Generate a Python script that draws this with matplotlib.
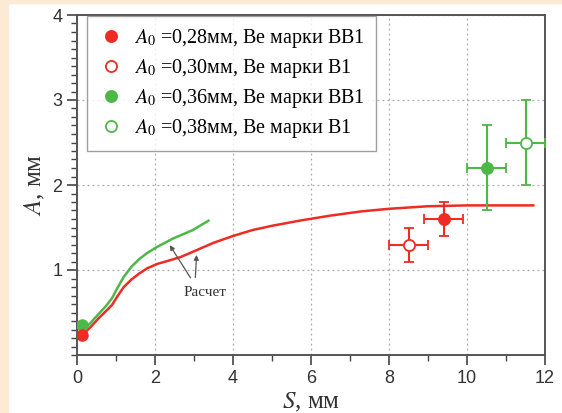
import numpy as np
import matplotlib
matplotlib.use("Agg")
import matplotlib.pyplot as plt
from matplotlib.ticker import MultipleLocator, FixedLocator
from matplotlib.patches import Rectangle
from matplotlib.lines import Line2D

# calculated curves (Расчет)
s_red = [0.15, 0.35, 0.55, 0.75, 0.9, 1.05, 1.2, 1.4, 1.6, 1.8, 2.05, 2.35, 2.64, 2.9, 3.15, 3.5, 4.0, 4.5, 5.0, 5.7, 6.5, 7.3, 8.0, 9.0, 10.0, 11.0, 11.7]
a_red = [0.24, 0.33, 0.43, 0.52, 0.59, 0.70, 0.80, 0.89, 0.96, 1.02, 1.07, 1.11, 1.15, 1.20, 1.25, 1.32, 1.40, 1.47, 1.52, 1.58, 1.64, 1.69, 1.72, 1.75, 1.76, 1.76, 1.76]
s_green = [0.16, 0.35, 0.55, 0.75, 0.9, 1.05, 1.2, 1.4, 1.6, 1.8, 2.05, 2.46, 2.97, 3.37]
a_green = [0.29, 0.38, 0.48, 0.58, 0.67, 0.80, 0.92, 1.04, 1.13, 1.20, 1.27, 1.37, 1.47, 1.58]

# experiment points: S, A, errS, errA
pts_s = [9.4, 8.5, 10.5, 11.5]
pts_a = [1.6, 1.3, 2.2, 2.5]
pts_xerr = [0.5, 0.5, 0.5, 0.5]
pts_yerr = [0.2, 0.2, 0.5, 0.5]
pts_filled = [True, False, True, False]
labels = ["$A_0$ =0,28мм, Ве марки ВВ1",
          "$A_0$ =0,30мм, Ве марки В1",
          "$A_0$ =0,36мм, Ве марки ВВ1",
          "$A_0$ =0,38мм, Ве марки В1"]

RED = "#ee2b24"
GREEN = "#4db848"
cols = [RED, RED, GREEN, GREEN]

plt.rcParams["mathtext.fontset"] = "stix"

fig = plt.figure(figsize=(5.62, 4.13), dpi=100, facecolor="white")
# peach page border
fig.patches.append(Rectangle((0, 0), 8 / 562, 1, transform=fig.transFigure, color="#fdead4", zorder=0))
fig.patches.append(Rectangle((0, 1 - 3 / 413), 1, 3 / 413, transform=fig.transFigure, color="#fdead4", zorder=0))

ax = fig.add_axes([77 / 562, 1 - 355 / 413, 468 / 562, 340 / 413])

ax.plot(s_red, a_red, color=RED, lw=1.8, zorder=3)
ax.plot(s_green, a_green, color=GREEN, lw=1.8, zorder=3)
# points near origin
ax.plot([0.12], [0.35], "o", color=GREEN, ms=8, zorder=4)
ax.plot([0.12], [0.24], "o", color=RED, ms=8, zorder=4)

handles = []
for s, a, xe, ye, f, c, lab in zip(pts_s, pts_a, pts_xerr, pts_yerr, pts_filled, cols, labels):
    mfc = c if f else "white"
    ax.errorbar(s, a, xerr=xe, yerr=ye, fmt="o", color=c, ecolor=c, elinewidth=1.5,
                capsize=3.5, capthick=1.2, ms=8, mfc=mfc, mec=c, mew=1.3, zorder=5)
    handles.append(Line2D([], [], ls="none", marker="o", ms=8, mfc=mfc, mec=c, mew=1.3, label=lab))

ax.annotate("", xy=(2.34, 1.32), xytext=(2.95, 0.88),
            arrowprops=dict(arrowstyle="-|>", color="#555555", lw=0.9, mutation_scale=7))
ax.annotate("", xy=(3.07, 1.21), xytext=(3.03, 0.88),
            arrowprops=dict(arrowstyle="-|>", color="#555555", lw=0.9, mutation_scale=7))
ax.text(3.28, 0.73, "Расчет", ha="center", va="center", fontsize=11,
        family="Liberation Serif", color="#333333")

ax.set_xlim(0, 12)
ax.set_ylim(0, 4)
ax.xaxis.set_major_locator(MultipleLocator(2))
ax.xaxis.set_minor_locator(MultipleLocator(1))
ax.yaxis.set_major_locator(FixedLocator([1, 2, 3, 4]))
ax.yaxis.set_minor_locator(FixedLocator(np.arange(0, 4.001, 0.1)))
ax.tick_params(which="both", direction="out", color="#444444", labelcolor="#333333",
               labelsize=13, labelfontfamily="Liberation Sans")
ax.tick_params(which="major", length=7, width=1.2)
ax.tick_params(which="minor", length=4, width=1.0)
ax.grid(True, which="major", ls=(0, (1.5, 2.5)), color="#aaaaaa", lw=0.9)
for sp in ax.spines.values():
    sp.set_color("#555555")
    sp.set_linewidth(1.4)

ax.set_xlabel("$S$, мм", fontsize=18, family="Liberation Serif", color="#333333", labelpad=3)
ax.set_ylabel("$A$, мм", fontsize=18, family="Liberation Serif", color="#333333", labelpad=4)

leg = ax.legend(handles=handles, loc="upper left", bbox_to_anchor=(10 / 468, 1 - 1 / 340),
                borderaxespad=0, frameon=True, fancybox=False,
                prop={"family": "Liberation Serif", "size": 14.5}, handletextpad=0.5,
                borderpad=0.55, labelspacing=0.35, handlelength=1.3)
leg.get_frame().set_edgecolor("#888888")
leg.get_frame().set_linewidth(1.0)

fig.savefig("out.png", dpi=100, facecolor=fig.get_facecolor())
